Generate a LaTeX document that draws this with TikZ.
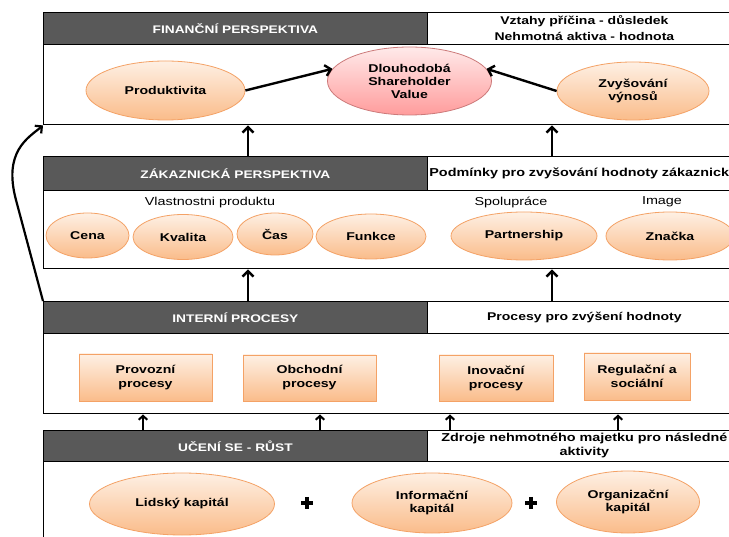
\documentclass[tikz,border=0pt]{standalone}
\usepackage{fontspec}
\setmainfont{Liberation Sans}[FakeStretch=1.25]
\usetikzlibrary{arrows.meta,shapes.geometric,shadows}

\definecolor{hdr}{HTML}{595959}
\definecolor{orTop}{HTML}{FEF0E4}
\definecolor{orBot}{HTML}{FABC8A}
\definecolor{orLine}{HTML}{F4A266}
\definecolor{pkTop}{HTML}{FFEAEA}
\definecolor{pkBot}{HTML}{FF9C9C}
\definecolor{pkLine}{HTML}{CC7A7A}

% font size and line spacing in one go
\newcommand\fsz[2]{\fontsize{#1}{#2}\selectfont}

\tikzset{
  panel/.style={rectangle, draw=black, line width=1.4pt, anchor=north west, inner sep=0pt},
  darkhead/.style={rectangle, draw=black, line width=0.8pt, fill=hdr, anchor=north west,
    inner sep=0pt, text=white, font={\bfseries\fsz{11}{13}}},
  lighthead/.style={rectangle, draw=black, line width=0.8pt, fill=white, anchor=north west,
    inner sep=0pt, align=center, font={\bfseries\fsz{11.2}{16}}},
  goal/.style={ellipse, draw=orLine, line width=0.8pt, top color=orTop, bottom color=orBot,
    inner sep=0pt, align=center, font={\bfseries\fsz{11.3}{13}}},
  topgoal/.style={goal, draw=pkLine, top color=pkTop, bottom color=pkBot},
  procbox/.style={rectangle, draw=orLine, line width=0.8pt, top color=orTop, bottom color=orBot,
    inner sep=0pt, align=center, font={\bfseries\fsz{11.3}{14}},
    drop shadow={opacity=0.25, shadow xshift=1.2pt, shadow yshift=-1.2pt}},
  caption/.style={font={\fsz{11.5}{13}}, inner sep=0pt},
  arr/.style={line width=2.4pt, -{Straight Barb[length=5.5pt,width=11pt]}},
  smallarr/.style={line width=2pt, -{Straight Barb[length=4pt,width=8.5pt]}},
  plus/.style={line width=4pt}
}

\begin{document}
\begin{tikzpicture}[x=1pt,y=-1pt]
\useasboundingbox (0,0) rectangle (729,537);
\fill[white] (0,0) rectangle (729,537);

% four perspective panels
\node[panel, minimum width=702pt, minimum height=112pt] (fin)   at (43,12)  {};
\node[panel, minimum width=702pt, minimum height=112pt] (cust)  at (43,156) {};
\node[panel, minimum width=702pt, minimum height=112pt] (int)   at (43,301) {};
\node[panel, minimum width=702pt, minimum height=130pt] (learn) at (43,430) {};

% panel headings
\node[darkhead, minimum width=384pt, minimum height=32pt] (finH)   at (43,12)  {FINANČNÍ PERSPEKTIVA};
\node[darkhead, minimum width=384pt, minimum height=34pt] (custH)  at (43,156) {ZÁKAZNICKÁ PERSPEKTIVA};
\node[darkhead, minimum width=384pt, minimum height=32pt] (intH)   at (43,301) {INTERNÍ PROCESY};
\node[darkhead, minimum width=384pt, minimum height=31pt] (learnH) at (43,430) {UČENÍ SE - RŮST};

\node[lighthead, minimum width=314pt, minimum height=32pt] (finR) at (427,12)
  {Vztahy příčina - důsledek\\Nehmotná aktiva - hodnota};
\node[lighthead, minimum width=314pt, minimum height=34pt, text width=310pt, inner xsep=2pt,
  align=left, font={\bfseries\fsz{11.5}{13}}] (custR) at (427,156)
  {Podmínky pro zvyšování hodnoty zákaznick};
\node[lighthead, minimum width=314pt, minimum height=32pt] (intR) at (427,301)
  {Procesy pro zvýšení hodnoty};
\node[lighthead, minimum width=314pt, minimum height=31pt, font={\bfseries\fsz{11.5}{14}}] (learnR) at (427,430)
  {Zdroje nehmotného majetku pro následné\\aktivity};

% financial perspective
\node[goal, minimum width=159pt, minimum height=59pt] (prod) at (165.5,90.5) {Produktivita};
\node[topgoal, minimum width=164pt, minimum height=68pt] (value) at (409.5,81)
  {Dlouhodobá\\Shareholder\\Value};
\node[goal, minimum width=152pt, minimum height=58pt] (rev) at (633,91) {Zvyšování\\výnosů};

% customer perspective
\node[caption] (capProd) at (210,203) {Vlastnostni produktu};
\node[caption] (capCoop) at (511,202) {Spolupráce};
\node[caption] (capImg)  at (662,202) {Image};
\node[goal, minimum width=83pt,  minimum height=45pt] (cena)    at (87.5,235.5) {Cena};
\node[goal, minimum width=100pt, minimum height=45pt] (kval)    at (183,237)    {Kvalita};
\node[goal, minimum width=76pt,  minimum height=42pt] (cas)     at (275,234)    {Čas};
\node[goal, minimum width=110pt, minimum height=45pt] (funk)    at (371,236.5)  {Funkce};
\node[goal, minimum width=146pt, minimum height=48pt] (partner) at (524,236)    {Partnership};
\node[goal, minimum width=128pt, minimum height=48pt] (brand)   at (670,236)    {Značka};

% internal processes
\node[procbox, minimum width=133pt, minimum height=47pt] (prov) at (145.5,377.5) {Provozní\\procesy};
\node[procbox, minimum width=133pt, minimum height=46pt] (obch) at (309.5,378)   {Obchodní\\procesy};
\node[procbox, minimum width=114pt, minimum height=46pt] (inov) at (496,378)     {Inovační\\procesy};
\node[procbox, minimum width=106pt, minimum height=47pt] (regu) at (637,376.5)   {Regulační a\\sociální};

% learning and growth
\node[goal, minimum width=185pt, minimum height=62pt] (human) at (182,504) {Lidský kapitál};
\node[goal, minimum width=160pt, minimum height=60pt] (info)  at (432,503) {Informační\\kapitál};
\node[goal, minimum width=143pt, minimum height=62pt] (org)   at (628,502) {Organizační\\kapitál};

\draw[plus] (301,503) -- (313,503) (307,497) -- (307,509);
\draw[plus] (525,503) -- (537,503) (531,497) -- (531,509);

% cause and effect links
\draw[arr] (prod.east) -- (value.171);
\draw[arr] (rev.west) -- (value.9);

\coordinate (colA) at (248,0);
\coordinate (colB) at (552,0);
\draw[arr] (cust.north -| colA) -- (fin.south -| colA);
\draw[arr] (cust.north -| colB) -- (fin.south -| colB);
\draw[arr] (int.north -| colA) -- (cust.south -| colA);
\draw[arr] (int.north -| colB) -- (cust.south -| colB);

\coordinate (s1) at (143,0);
\coordinate (s2) at (320,0);
\coordinate (s3) at (450,0);
\coordinate (s4) at (618,0);
\foreach \c in {s1,s2,s3,s4}
  \draw[smallarr] (learn.north -| \c) -- (int.south -| \c);

% feedback from internal processes to the financial goals
\draw[line width=2.2pt, -{Straight Barb[length=5pt,width=10pt]}]
  (int.north west) -- (16,200) .. controls (3,151.5) and (28,138) .. (fin.south west);
\end{tikzpicture}
\end{document}
